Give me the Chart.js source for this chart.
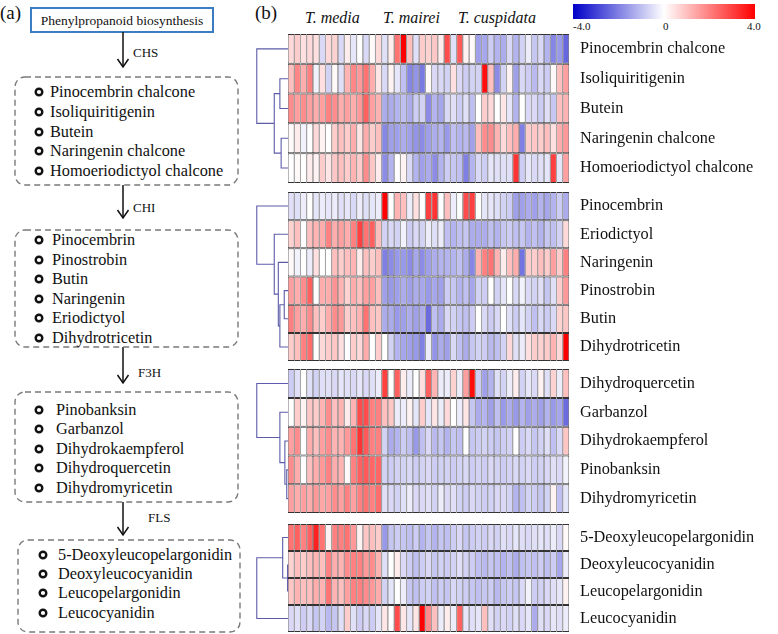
<!DOCTYPE html>
<html><head><meta charset="utf-8">
<script src="https://cdn.jsdelivr.net/npm/chart.js@4.4.1/dist/chart.umd.min.js"></script>
<style>
body{margin:0;width:778px;height:634px;position:relative;background:#fff;overflow:hidden;font-family:'Liberation Serif','Times New Roman',serif;color:#111;}
.abs{position:absolute;white-space:nowrap;line-height:1;font-family:'Liberation Serif','Times New Roman',serif;}
</style></head><body>
<svg id="flow" width="248" height="634" style="position:absolute;left:0;top:0"></svg>
<div id="labels"></div>
<div class="abs" style="left:255px;top:3px;font-size:19px">(b)</div>
<div class="abs" style="left:573px;top:4px;width:182px;height:15px;background:linear-gradient(to right,#0000c8,#ffffff 50%,#ff0000)"></div>
<div class="abs" style="left:573px;top:21px;font-size:11px">-4.0</div>
<div class="abs" style="left:663px;top:21px;font-size:11px">0</div>
<div class="abs" style="left:747px;top:21px;font-size:11px">4.0</div>
<canvas id="c" width="528" height="598" style="position:absolute;left:250px;top:34px"></canvas>
<script>
// ---------- data ----------
const species = ['T. media', 'T. mairei', 'T. cuspidata'];
const enzymes = ['CHS', 'CHI', 'F3H', 'FLS'];
const upstream = 'Phenylpropanoid biosynthesis';

// pathway lists (panel a)
const pathChalcones = ['Pinocembrin chalcone','Isoliquiritigenin','Butein','Naringenin chalcone','Homoeriodictyol chalcone'];
const pathFlavanones = ['Pinocembrin','Pinostrobin','Butin','Naringenin','Eriodictyol','Dihydrotricetin'];
const pathDihydroflavonols = ['Pinobanksin','Garbanzol','Dihydrokaempferol','Dihydroquercetin','Dihydromyricetin'];
const pathLeucoanthocyanidins = ['5-Deoxyleucopelargonidin','Deoxyleucocyanidin','Leucopelargonidin','Leucocyanidin'];

// heatmap row order (panel b)
const rowsChalcones = ['Pinocembrin chalcone','Isoliquiritigenin','Butein','Naringenin chalcone','Homoeriodictyol chalcone'];
const rowsFlavanones = ['Pinocembrin','Eriodictyol','Naringenin','Pinostrobin','Butin','Dihydrotricetin'];
const rowsDihydroflavonols = ['Dihydroquercetin','Garbanzol','Dihydrokaempferol','Pinobanksin','Dihydromyricetin'];
const rowsLeuco = ['5-Deoxyleucopelargonidin','Deoxyleucocyanidin','Leucopelargonidin','Leucocyanidin'];

// values: 45 samples per row (15 per species)
const valChalcones = [
 [0.6,0.8,0.5,0.6,0.5,-0.6,0.6,0.7,-0.6,0.3,-0.4,0,-0.6,0.1,0.6, -0.5,0.3,2.2,4.0,1.0,-0.5,0.8,0.7,0.9,0.3,2.8,-0.5,2.6,0.2,0.1, -1.5,-1.4,-0.8,-1.2,-1.3,-0.6,-1.2,-0.7,-0.3,-0.9,-0.6,-1.2,-1.9,-1.6,-2.4],
 [1.0,1.9,1.3,2.0,-0.2,0.5,-0.7,0.1,-0.5,1.2,1.9,1.6,2.2,1.3,0.4, -0.6,0.2,-0.4,-1.0,-1.9,-1.7,-2.1,0.1,-0.6,-0.6,-0.7,0.5,-0.6,-0.8,-0.7, -0.7,3.8,1.0,-1.8,-0.7,0.2,-1.5,-0.6,-0.8,-1.1,-0.6,-0.8,0.1,1.0,1.5],
 [1.8,1.5,1.8,1.5,1.3,1.5,2.0,1.8,1.3,1.5,1.3,1.6,2.5,1.5,1.2, -1.3,-1.3,-1.2,-1.0,-1.3,-0.8,-0.7,-1.8,-1.2,-1.4,-0.6,-0.5,-0.8,-0.5,-1.0, 0,0.8,0.6,0,0.4,-0.4,-1.2,0,-0.6,-0.6,-0.8,-0.5,-0.9,1.0,1.2],
 [0.1,0.3,-0.2,0,0.6,0.2,0,0.8,1.0,0.8,1.3,0.4,1.3,0.8,1.0, -1.9,-1.5,-1.5,-1.3,-1.5,-1.7,-1.8,-1.5,-1.3,-1.2,-1.6,-1.0,-1.2,-1.1,-1.5, 1.0,1.8,1.8,1.2,0.6,1.0,1.3,-2.0,0.8,0.9,0.8,1.0,0.5,1.3,1.6],
 [0,0.1,0,0.3,0.2,0.8,0.4,0.9,1.0,0.8,1.2,0.8,1.8,0.9,0.3, -1.8,-1.2,0,0.2,-0.6,-1.2,-1.5,-1.3,-1.8,-1.2,-0.8,-0.9,-1.0,-2.0,-1.2, -0.6,-0.8,-0.4,-0.5,-0.5,-0.5,3.2,-0.8,-0.4,-0.6,-0.5,-0.4,3.0,-0.4,1.5]
];
const valFlavanones = [
 [-0.5,-0.5,-0.3,0,-0.4,-0.3,-0.4,-0.3,-0.5,-0.4,-0.6,-0.3,-0.5,-0.4,-0.3, 4.0,0,1.2,1.0,-0.3,0.5,0,3.0,3.2,0,1.0,-0.3,0,2.8,3.0, 0,-0.4,-0.4,-0.5,-0.7,-0.8,-1.5,-1.5,-1.3,-1.5,-1.2,-1.4,-1.2,-0.8,-1.3],
 [0.7,1.0,0,1.0,1.2,1.3,2.0,1.3,1.5,1.3,2.0,3.0,2.2,2.5,1.0, -0.7,-0.6,-0.7,-0.2,-0.8,-0.6,-0.7,-0.3,-0.5,-0.3,-1.0,-1.2,-1.0,-0.9,-1.3, -1.3,-1.3,-1.0,-1.2,-0.9,-0.8,-1.0,-0.9,-1.2,-1.0,-1.2,-0.9,-1.0,-0.7,0.6],
 [0.1,-0.2,0,-0.3,0.5,0,0,1.0,0.8,1.0,1.2,0.3,1.0,0.8,1.0, -2.0,-1.8,-1.6,-1.6,-1.8,-1.4,-1.8,-1.5,-1.3,-1.2,-1.2,-1.2,-1.0,-1.3,-1.9, 1.2,2.0,2.2,1.2,0.3,1.0,1.3,-2.2,0.8,0.8,1.0,0.8,1.5,0.8,2.0],
 [1.5,1.3,1.8,2.5,0,1.3,1.3,1.7,1.2,0.7,1.3,1.0,1.5,1.5,1.0, -1.5,-1.6,-1.5,-1.3,-1.5,-1.3,-1.4,-1.6,-1.4,-1.5,-0.8,-0.9,-1.2,-1.0,-1.4, -0.7,-0.8,0,-0.7,-0.4,0,-0.6,-0.2,-0.6,-0.7,-0.5,-0.9,-0.5,0.8,1.6],
 [2.0,1.5,1.3,1.8,1.0,0.8,1.3,1.8,1.6,0.8,1.0,1.2,2.2,1.0,0.9, -1.3,-1.3,-1.6,-1.5,-1.3,-1.5,-1.3,-2.3,-1.0,-1.3,-0.6,-0.7,-0.9,-1.0,-0.8, 0,-0.6,-0.8,-0.6,0,-0.5,-0.8,-0.4,-0.7,-1.0,-0.6,-0.8,-0.6,0.7,0.9],
 [0.8,1.0,2.0,2.3,0,0.6,0.8,0.9,0.5,0,0.8,0.6,1.3,0,0.8, 0,-0.7,-1.2,-1.4,-1.5,-1.6,-2.0,-0.3,-1.7,-1.3,-1.5,-0.6,-1.0,-1.3,-0.9, -0.7,-0.8,-1.1,-1.0,-0.7,0.6,-0.5,-0.3,0.5,0.8,0.7,0.8,1.2,0.6,4.0]
];
const valDihydroflavonols = [
 [-0.8,-0.5,0,-0.5,-0.7,-0.5,-0.5,-0.6,-0.4,-0.5,-0.6,-0.4,-0.6,-0.5,-0.3, 3.0,0,2.5,0.3,-0.3,0,0.5,2.5,1.2,-0.3,-0.3,0.7,-0.3,1.5,3.8, -0.8,-1.5,-1.2,-0.5,-0.7,-0.3,0.3,-0.7,-0.4,-0.6,0.2,-0.5,0.7,-0.3,1.0],
 [0,0.8,0.2,0.9,0.8,1.2,1.8,1.0,1.2,0.3,1.2,2.8,2.8,2.0,2.0, 1.0,0.9,-0.3,-0.3,0.2,-0.4,0.8,-0.4,0.4,-0.3,0.6,0,-0.3,0.4,-0.9, -1.3,-1.2,-1.5,-1.0,-1.6,-1.3,-1.6,-1.2,-1.5,-1.3,-1.5,-1.2,-1.6,-1.4,-2.3],
 [1.5,1.8,0,1.3,1.0,1.5,1.8,1.2,1.2,1.6,2.2,3.2,2.6,2.0,2.0, -0.7,-1.3,-1.2,-0.8,-1.0,-1.6,-1.0,-0.6,-1.1,-0.9,-1.2,-0.9,-1.0,0,-0.9, -0.8,-0.7,-0.8,-0.9,-0.8,-0.7,0,-0.8,-0.6,-0.9,-0.7,-0.5,-1.0,-0.6,0.9],
 [1.8,1.3,0,1.0,1.3,1.6,2.0,1.3,1.2,0.1,2.0,2.5,2.6,2.4,2.4, -0.7,-0.8,-0.7,-0.7,-0.6,-0.8,-0.7,-0.6,-0.8,-0.7,-0.7,-0.8,-0.7,-0.6,-0.8, -0.7,-0.8,-0.6,-0.7,-0.8,-0.7,-0.6,-0.7,-0.6,-0.8,-0.7,-0.6,-0.5,-0.6,-0.2],
 [1.5,1.3,1.5,1.3,1.6,1.4,1.5,1.8,1.5,2.0,1.5,2.0,2.2,2.0,2.3, -0.5,-0.6,-0.7,-0.5,-0.3,-0.6,-0.6,-0.5,-0.7,-0.3,-0.6,-0.5,-0.7,-0.8,-0.6, -0.7,-0.8,-0.7,-0.6,-0.6,-0.7,-1.2,-1.0,-0.7,-0.8,-0.9,-0.7,0.2,-1.0,-0.4]
];
const valLeuco = [
 [2.2,2.5,2.0,2.5,3.5,2.2,0.2,2.0,2.0,2.2,1.6,0.2,0.9,1.0,0.8, -1.6,-0.9,-0.8,-0.9,-1.0,-0.8,-1.2,-0.9,-1.2,-0.9,-1.0,-0.8,-0.6,-0.9,-0.8, -0.7,-0.8,-0.6,-0.7,-0.5,-0.6,-0.4,-0.5,-0.6,-0.5,-0.4,-0.5,-0.3,-0.6,0.1],
 [0.7,1.0,0.8,1.0,1.2,1.0,2.0,1.3,1.2,1.8,2.0,2.0,1.6,1.8,1.2, -0.5,0,0.3,-0.6,-0.8,-1.0,-0.8,-0.6,-0.9,-0.7,-0.8,-0.7,-0.5,-0.7,-0.8, -1.0,-1.1,-0.9,-1.0,-1.2,-1.0,-1.3,-1.0,-0.9,-1.0,-0.8,-1.0,-0.8,-1.4,-0.3],
 [0.9,1.2,1.0,1.0,1.3,1.2,2.2,1.2,1.0,1.5,2.0,2.0,1.8,1.6,1.3, -0.7,-0.4,0,-0.3,-0.9,-1.0,-0.8,-0.7,-1.0,-0.8,-0.9,-0.6,-0.7,-0.8,-0.9, -1.0,-0.9,-0.8,-1.1,-0.9,-0.8,-0.9,-0.6,-0.2,-0.8,-0.7,-0.6,-0.5,-0.4,0.2],
 [-0.6,-0.5,-0.8,-0.6,-0.9,-0.7,-1.1,-0.9,-0.5,0.8,-0.5,-0.8,-0.6,-0.8,-0.4, 0.4,0,2.8,0.4,-0.4,0.4,4.0,1.8,1.0,-0.3,0.3,-0.3,2.5,-0.4,-0.5, -0.4,1.0,-0.5,-0.7,-0.6,-0.7,-0.5,-0.6,-0.4,-1.3,-0.5,-0.6,-0.4,-0.5,-0.3]
];

// dendrogram merges: [childA, childB, height]; child >=0 = row index, <0 = earlier merge -(k+1)
const treeChalcones = [[1,2,1.3],[3,4,1.1],[-1,-2,2.2],[0,-3,5.0]];
const treeFlavanones = [[3,4,0.6],[-1,5,1.3],[2,-2,1.55],[1,-3,2.2],[0,-4,5.0]];
const treeDihydroflavonols = [[3,4,0.2],[2,-1,0.5],[1,-2,1.3],[0,-3,5.0]];
const treeLeuco = [[1,2,0.1],[0,-1,0.85],[-2,3,5.0]];

// ---------- panel (a): pathway diagram ----------
const NS = 'http://www.w3.org/2000/svg';
const svg = document.getElementById('flow');
const labelLayer = document.getElementById('labels');
function el(tag, attrs) {
  const e = document.createElementNS(NS, tag);
  for (const k in attrs) e.setAttribute(k, attrs[k]);
  svg.appendChild(e); return e;
}
// text placed by left x and vertical centre y
function txt(str, x, y, size, extra) {
  const d = document.createElement('div');
  d.className = 'abs';
  d.style.cssText = `left:${x}px;top:${y - size / 2}px;font-size:${size}px;` + (extra || '');
  d.textContent = str;
  labelLayer.appendChild(d); return d;
}
txt('(a)', 0, 12, 19);
el('rect', {x: 31, y: 8, width: 182, height: 24, fill: 'none', stroke: '#3b7cc2', 'stroke-width': 2});
const up = txt(upstream, 0, 20.5, 13.5, 'width:244px;text-align:center;');
const arrowSpecs = [[32, 67, 133, 52], [185, 218, 133, 207], [347, 383, 138, 372], [502, 535, 148, 517]];
arrowSpecs.forEach((a, i) => {
  el('line', {x1: 123, y1: a[0], x2: 123, y2: a[1], stroke: '#111', 'stroke-width': 1.5});
  el('polyline', {points: `117.5,${a[1]-8} 123,${a[1]} 128.5,${a[1]-8}`, fill: 'none', stroke: '#111', 'stroke-width': 1.5});
  txt(enzymes[i], a[2], a[3], 13);
});
const boxSpecs = [
  {list: pathChalcones, x: 15, y: 77, w: 223, h: 108, cx: 39, tx: 50, ys: [92, 112, 132, 151, 171]},
  {list: pathFlavanones, x: 15, y: 230, w: 223, h: 117, cx: 39, tx: 52, ys: [240, 260, 279, 299, 318, 338]},
  {list: pathDihydroflavonols, x: 15, y: 392, w: 223, h: 110, cx: 39, tx: 56, ys: [410, 429, 449, 468, 488]},
  {list: pathLeucoanthocyanidins, x: 18, y: 540, w: 222, h: 92, cx: 43, tx: 58, ys: [555, 574, 593, 613]}
];
boxSpecs.forEach(b => {
  el('rect', {x: b.x, y: b.y, width: b.w, height: b.h, rx: 10, ry: 10, fill: 'none', stroke: '#7a7a7a', 'stroke-width': 1.4, 'stroke-dasharray': '6 4'});
  b.list.forEach((name, i) => {
    el('circle', {cx: b.cx, cy: b.ys[i], r: 3.3, fill: 'none', stroke: '#111', 'stroke-width': 2.4});
    txt(name, b.tx, b.ys[i], 16.3);
  });
});

// species labels
[305, 383, 458].forEach((x, i) => txt(species[i], x, 18, 16, 'font-style:italic;'));

// ---------- panel (b): heatmap + dendrograms ----------
function heatColor(v) {
  const t = Math.min(Math.abs(v) / 4, 1);
  if (v >= 0) { const g = Math.round(255 * (1 - t)); return `rgb(255,${g},${g})`; }
  const c = Math.round(255 * (1 - t)); return `rgb(${c},${c},${Math.round(255 - 55 * t)})`;
}
const blocks = [
  {names: rowsChalcones, values: valChalcones, tree: treeChalcones},
  {names: rowsFlavanones, values: valFlavanones, tree: treeFlavanones},
  {names: rowsDihydroflavonols, values: valDihydroflavonols, tree: treeDihydroflavonols},
  {names: rowsLeuco, values: valLeuco, tree: treeLeuco}
];
const rowH = [29.8, 28.2, 28.8, 27.0];
const gapAfter = [9, 8, 11, 0];

const cells = [], cellColors = [], tickVals = [], tickNames = [], dendroSets = [];
let cursor = 0;
blocks.forEach((b, bi) => {
  const leafY = [];
  b.names.forEach((name, ri) => {
    const y0 = cursor + ri * rowH[bi], y1 = y0 + rowH[bi];
    leafY.push((y0 + y1) / 2);
    tickVals.push((y0 + y1) / 2); tickNames.push(name);
    b.values[ri].forEach((v, ci) => { cells.push({x: ci + 0.5, y: [y0, y1]}); cellColors.push(heatColor(v)); });
  });
  const nodes = [], pts = [];
  const get = r => r >= 0 ? {y: leafY[r], h: 0} : nodes[-r - 1];
  b.tree.forEach(([a, c, h]) => {
    const A = get(a), B = get(c);
    pts.push({x: -A.h, y: A.y}, {x: -h, y: A.y}, {x: -h, y: B.y}, {x: -B.h, y: B.y}, {x: -h, y: null});
    nodes.push({y: (A.y + B.y) / 2, h});
  });
  dendroSets.push({type: 'line', data: pts, borderColor: 'rgb(92,92,170)', borderWidth: 1.1, pointRadius: 0, spanGaps: false, fill: false, tension: 0});
  cursor += b.names.length * rowH[bi] + gapAfter[bi];
});
const totalH = cursor;

new Chart(document.getElementById('c'), {
  type: 'bar',
  data: {
    datasets: [
      {type: 'bar', data: cells, backgroundColor: cellColors, borderColor: '#333',
       borderWidth: {top: 1, bottom: 1, left: 0.6, right: 0.6}, borderSkipped: false,
       barPercentage: 1, categoryPercentage: 1, inflateAmount: 0},
      ...dendroSets
    ]
  },
  options: {
    responsive: false, animation: false, devicePixelRatio: 1,
    layout: {padding: 0},
    plugins: {legend: {display: false}, tooltip: {enabled: false}},
    scales: {
      x: {type: 'linear', min: -6.085, max: 45, offset: false, display: false, grid: {offset: false}},
      y: {type: 'linear', position: 'right', reverse: true, min: 0, max: totalH,
          grid: {display: false, drawTicks: false}, border: {display: false},
          ticks: {autoSkip: false, padding: 11, color: '#111',
                  font: {family: "'Liberation Serif','Times New Roman',serif", size: 16.3},
                  callback: (v, i) => tickNames[i]},
          afterBuildTicks: s => { s.ticks = tickVals.map(v => ({value: v})); },
          afterFit: s => { s.width = 209; s.paddingTop = 0; s.paddingBottom = 0; }}
    }
  }
});
</script>
</body></html>
